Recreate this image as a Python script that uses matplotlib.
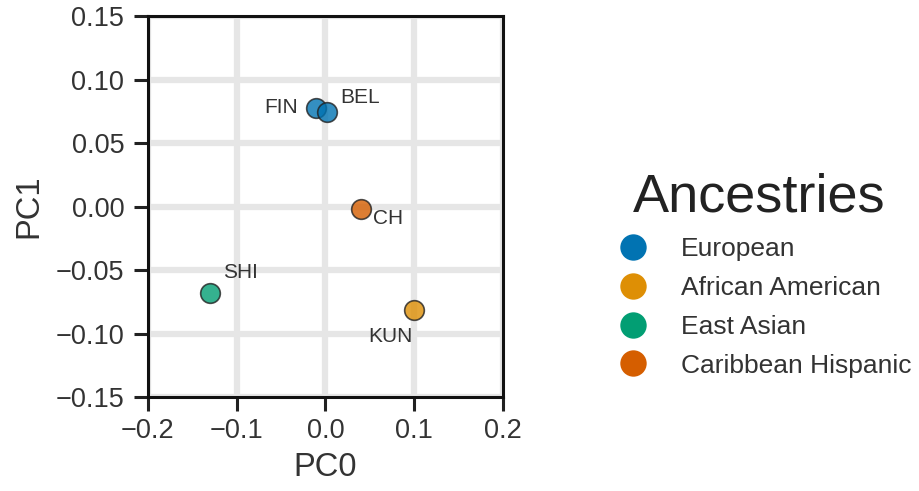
import matplotlib.pyplot as plt
from matplotlib.lines import Line2D

plt.rcParams['font.family'] = ['Liberation Sans', 'DejaVu Sans']

# data
names = ['FIN', 'BEL', 'CH', 'SHI', 'KUN']
pc0 = [-0.011, 0.002, 0.040, -0.130, 0.100]
pc1 = [0.078, 0.0745, -0.002, -0.068, -0.0815]
ancestry = ['European', 'European', 'Caribbean Hispanic', 'East Asian', 'African American']

ancestries = ['European', 'African American', 'East Asian', 'Caribbean Hispanic']
colors = ['#0173b2', '#de8f05', '#029e73', '#d55e00']

# label offsets in pixels (dx, dy, ha)
offsets = {'FIN': (-18, 0, 'right'), 'BEL': (13, 15, 'left'), 'CH': (12, -9, 'left'),
           'SHI': (13, 20, 'left'), 'KUN': (-24, -26, 'center')}

fig = plt.figure(figsize=(9.19, 4.91), dpi=100)
ax = fig.add_axes([0.161, 0.1914, 0.386, 0.7756])

cmap = dict(zip(ancestries, colors))
for x, y, n, a in zip(pc0, pc1, names, ancestry):
    ax.scatter(x, y, s=200, color=cmap[a], alpha=0.8, edgecolor='#222222', linewidth=1.2, zorder=3)
    dx, dy, ha = offsets[n]
    ax.annotate(n, (x, y), xytext=(dx, dy), textcoords='offset pixels', ha=ha, va='center',
                fontsize=15, color='#333333', zorder=4)

ax.set_xlim(-0.2, 0.2)
ax.set_ylim(-0.15, 0.15)
ax.set_xticks([-0.2, -0.1, 0.0, 0.1, 0.2])
ax.set_yticks([-0.15, -0.10, -0.05, 0.00, 0.05, 0.10, 0.15])
ax.set_yticklabels(['\u22120.15', '\u22120.10', '\u22120.05', '0.00', '0.05', '0.10', '0.15'])
ax.set_xticklabels(['\u22120.2', '\u22120.1', '0.0', '0.1', '0.2'])
ax.grid(True, color='#e6e6e6', linewidth=4.5, zorder=0)
ax.set_axisbelow(True)
ax.tick_params(labelsize=19.5, length=10, width=2.2, colors='#222222', labelcolor='#333333')
ax.tick_params(axis='x', pad=5)
ax.tick_params(axis='y', pad=7)
for sp in ax.spines.values():
    sp.set_linewidth(2.2)
    sp.set_color('#111111')
ax.set_xlabel('PC0', fontsize=23.5, color='#333333', labelpad=6)
ax.set_ylabel('PC1', fontsize=23.5, color='#333333', labelpad=8)

handles = [Line2D([], [], marker='o', linestyle='', markersize=19, color=c, markeredgewidth=0)
           for c in colors]
leg = ax.legend(handles, ancestries, title='Ancestries', loc='center left',
                bbox_to_anchor=(1.225, 0.32), frameon=False, fontsize=19, title_fontsize=39,
                handletextpad=0.82, labelspacing=0.56)
leg.get_title().set_color('#222222')
for t in leg.get_texts():
    t.set_color('#333333')

fig.savefig('out.png', dpi=100)
